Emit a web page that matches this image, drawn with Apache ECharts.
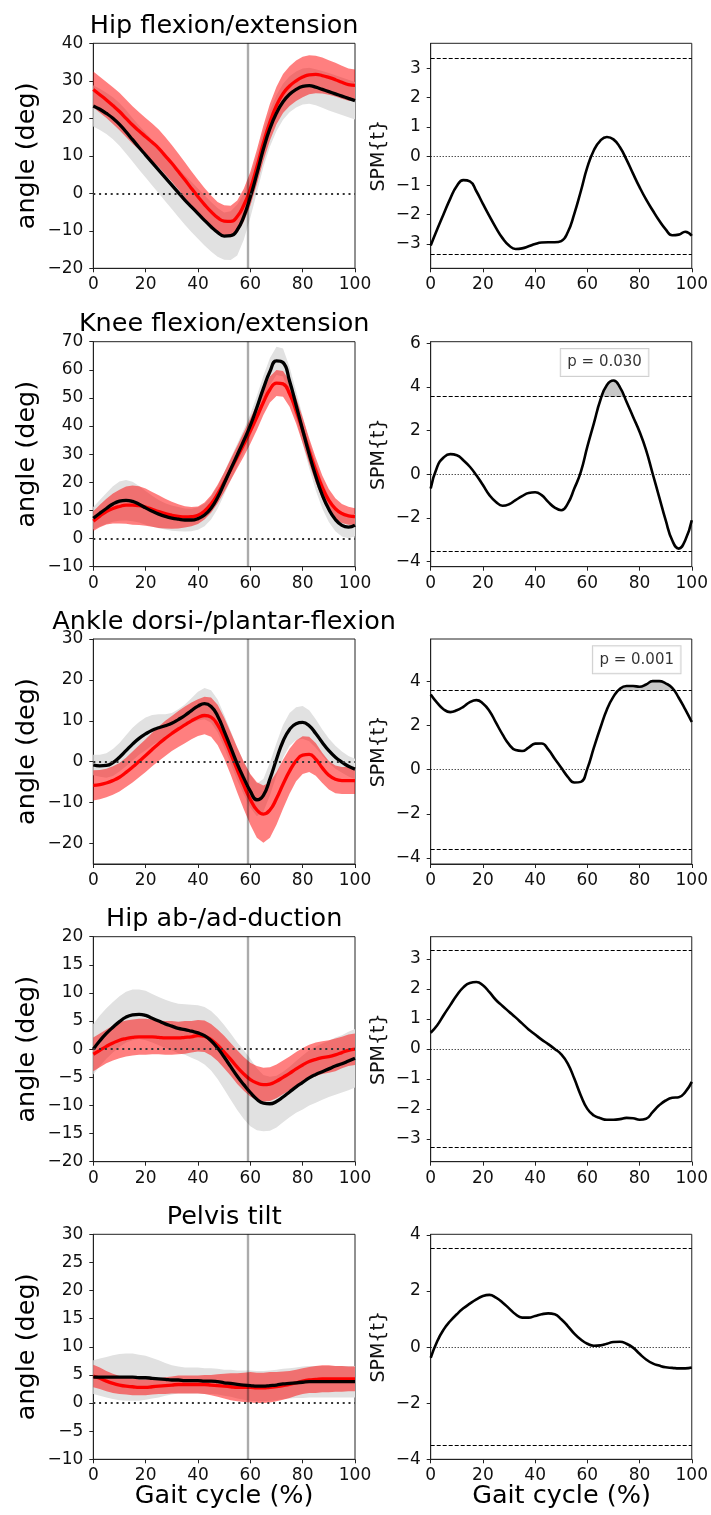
<!DOCTYPE html>
<html><head><meta charset="utf-8">
<script src="https://cdn.jsdelivr.net/npm/echarts@6/dist/echarts.min.js"></script>
<style>html,body{margin:0;padding:0;background:#fff}#c{width:711px;height:1515px}</style>
</head><body><div id="c"></div>
<script>
// ---------------- DATA ----------------
const cycle = [0,2.5,5,7.5,10,12.5,15,17.5,20,22.5,25,27.5,30,32.5,35,37.5,40,42.5,45,47.5,50,52.5,55,57.5,60,62.5,65,67.5,70,72.5,75,77.5,80,82.5,85,87.5,90,92.5,95,97.5,100];
const toeOff = 59;
const titles = ['Hip flexion/extension','Knee flexion/extension','Ankle dorsi-/plantar-flexion','Hip ab-/ad-duction','Pelvis tilt'];

// Hip flexion/extension
const hipFlexMeanA = [23.3,22.4,21.3,20.0,18.4,16.4,14.3,12.2,10.2,8.2,6.2,4.2,2.2,0.2,-1.8,-3.6,-5.4,-7.2,-8.9,-10.4,-11.4,-11.3,-9.8,-6.2,-1.0,5.2,11.8,17.3,21.4,24.4,26.4,27.7,28.5,28.7,28.3,27.7,27.1,26.5,25.9,25.3,24.7];
const hipFlexSdA   = [5.5,5.5,5.5,5.6,5.7,5.8,5.8,5.9,6.0,6.1,6.2,6.3,6.4,6.5,6.6,6.7,6.7,6.7,6.6,6.5,6.3,6.5,6.8,6.2,5.5,5.0,4.8,4.8,4.8,4.8,4.8,4.8,4.8,4.8,4.8,4.9,5.0,5.0,5.0,5.0,5.0];
const hipFlexMeanB = [27.7,26.3,24.9,23.4,21.8,20.0,18.2,16.6,15.1,13.6,12.0,10.0,8.0,5.8,3.6,1.3,-0.9,-3.0,-4.9,-6.5,-7.4,-7.5,-6.2,-3.2,1.2,7.0,13.4,19.0,23.4,26.6,28.6,30.0,31.0,31.6,31.7,31.4,30.9,30.3,29.6,29.0,28.8];
const hipFlexSdB   = [4.8,4.8,4.8,4.9,5.0,5.0,5.0,5.0,5.0,5.0,5.0,5.0,4.9,4.8,4.7,4.6,4.5,4.4,4.3,4.2,4.2,4.2,4.3,4.4,4.5,4.6,4.7,4.9,5.0,5.2,5.3,5.4,5.4,5.2,5.0,4.8,4.6,4.5,4.4,4.3,4.2];
const hipFlexSpm   = [-3.05,-2.5,-1.97,-1.45,-1.02,-0.82,-0.86,-1.2,-1.63,-2.05,-2.45,-2.8,-3.05,-3.17,-3.15,-3.08,-3.0,-2.95,-2.94,-2.94,-2.9,-2.6,-1.97,-1.2,-0.38,0.2,0.53,0.65,0.57,0.3,-0.12,-0.6,-1.06,-1.48,-1.85,-2.2,-2.5,-2.7,-2.68,-2.58,-2.72];

// Knee flexion/extension
const kneeMeanA = [7.2,9.0,10.7,12.3,13.3,13.6,13.2,12.2,10.9,9.7,8.7,7.9,7.3,6.9,6.6,6.6,7.1,8.4,10.8,14.6,19.6,24.7,29.7,34.8,40.2,46.6,53.4,59.4,63.2,62.6,56.0,47.4,38.6,30.0,22.2,15.5,10.4,6.8,4.7,4.1,4.8];
const kneeSdA   = [4.0,4.7,5.5,6.3,7.0,7.2,7.0,6.5,6.0,5.5,5.0,4.7,4.5,4.3,4.1,4.0,4.0,4.0,4.0,4.0,4.0,4.0,4.0,4.0,4.0,4.2,4.5,4.8,5.0,5.0,5.0,5.0,5.0,5.0,5.0,4.8,4.5,4.2,4.0,4.0,4.0];
const kneeMeanB = [6.2,8.0,9.6,10.7,11.4,11.9,11.9,11.7,11.2,10.4,9.6,8.9,8.3,7.9,7.7,7.8,8.3,9.8,12.3,15.8,20.0,24.5,29.0,33.5,38.2,43.2,48.5,53.0,55.3,55.0,51.5,45.5,38.5,31.2,24.3,18.2,13.6,10.6,8.9,8.1,7.8];
const kneeSdB   = [3.5,4.0,4.6,5.3,6.0,6.6,7.0,6.9,6.6,6.2,5.8,5.3,4.8,4.3,3.8,3.4,3.1,3.0,3.1,3.3,3.5,3.8,4.0,4.3,4.5,4.6,4.6,4.6,4.6,4.6,4.6,4.6,4.6,4.5,4.4,4.2,4.0,3.7,3.4,3.2,3.0];
const kneeSpm   = [-0.66,0.34,0.77,0.92,0.87,0.64,0.34,-0.05,-0.5,-0.96,-1.27,-1.45,-1.38,-1.19,-1.01,-0.86,-0.83,-0.96,-1.27,-1.53,-1.65,-1.35,-0.66,0.1,1.26,2.33,3.4,4.09,4.29,3.98,3.32,2.63,1.94,1.1,0.03,-1.04,-2.11,-3.03,-3.41,-3.03,-2.11];

// Ankle dorsi-/plantar-flexion
const ankleMeanA = [-0.8,-1.0,-0.9,-0.2,1.1,2.7,4.3,5.7,6.8,7.7,8.3,8.8,9.4,10.3,11.3,12.5,13.6,14.2,13.5,11.2,7.5,3.5,-0.5,-4.0,-7.2,-9.3,-8.2,-4.2,0.6,5.0,7.9,9.3,9.6,8.8,6.9,4.7,2.7,1.1,-0.1,-1.1,-1.8];
const ankleSdA   = [2.5,2.7,3.0,3.3,3.5,3.8,4.0,4.0,4.0,3.7,3.3,2.8,2.5,2.5,2.7,3.0,3.5,3.8,4.0,4.0,4.0,4.0,4.0,4.0,4.0,4.0,4.0,4.0,4.0,4.0,4.0,4.0,4.0,3.8,3.5,3.2,3.0,2.8,2.6,2.5,2.5];
const ankleMeanB = [-5.8,-5.6,-5.2,-4.6,-3.8,-2.6,-1.3,0.1,1.5,3.0,4.4,5.7,6.9,8.0,9.0,10.0,10.8,11.3,10.9,9.0,5.8,2.0,-2.0,-5.8,-9.2,-11.8,-12.8,-11.8,-9.0,-5.5,-2.3,0.2,1.6,1.8,0.6,-1.5,-3.3,-4.3,-4.6,-4.6,-4.6];
const ankleSdB   = [3.7,3.6,3.5,3.5,3.5,3.6,3.8,3.9,4.0,4.1,4.2,4.3,4.3,4.4,4.5,4.5,4.5,4.6,4.8,4.9,5.0,5.2,5.5,5.8,6.2,6.8,7.0,6.8,6.4,6.0,5.5,5.0,4.6,4.3,4.0,3.7,3.5,3.4,3.3,3.3,3.3];
const ankleSpm   = [3.41,3.03,2.73,2.61,2.69,2.85,3.06,3.15,3.0,2.66,2.13,1.6,1.15,0.89,0.85,1.0,1.18,1.19,0.92,0.5,0.09,-0.32,-0.58,-0.55,0.05,1.0,1.9,2.73,3.31,3.67,3.79,3.79,3.76,3.86,4.01,4.01,3.91,3.71,3.26,2.73,2.16];

// Hip ab-/ad-duction
const hipAbMeanA = [0.0,1.5,2.8,3.9,4.9,5.7,6.1,6.2,6.0,5.5,5.0,4.5,4.1,3.7,3.5,3.2,2.9,2.4,1.5,0.2,-1.4,-3.1,-4.8,-6.3,-7.7,-8.9,-9.6,-9.7,-9.3,-8.5,-7.6,-6.7,-5.9,-5.1,-4.5,-4.0,-3.5,-3.0,-2.6,-2.1,-1.6];
const hipAbSdA   = [4.5,4.5,4.5,4.5,4.5,4.5,4.5,4.4,4.4,4.3,4.3,4.3,4.3,4.4,4.5,4.7,4.9,5.1,5.3,5.5,5.7,5.9,6.0,6.1,6.0,5.5,5.0,4.8,4.6,4.5,4.5,4.6,4.8,4.9,5.0,5.0,5.0,5.1,5.1,5.2,5.2];
const hipAbMeanB = [-0.9,-0.2,0.5,1.1,1.6,1.9,2.1,2.2,2.2,2.2,2.1,2.0,2.0,2.0,2.1,2.2,2.4,2.3,1.7,0.7,-0.5,-1.8,-3.2,-4.4,-5.4,-6.0,-6.3,-6.2,-5.7,-5.0,-4.3,-3.5,-2.8,-2.2,-1.8,-1.5,-1.3,-1.0,-0.6,-0.2,0.0];
const hipAbSdB   = [3.0,3.0,3.0,3.1,3.2,3.2,3.2,3.2,3.2,3.1,3.0,3.0,3.0,2.9,2.9,2.8,2.8,2.8,2.8,2.8,2.9,2.9,3.0,3.0,3.0,3.0,3.0,3.0,3.0,3.0,3.0,3.0,3.0,3.0,3.0,2.9,2.9,2.9,2.8,2.8,2.8];
const hipAbSpm   = [0.54,0.79,1.13,1.46,1.79,2.05,2.2,2.23,2.12,1.89,1.63,1.43,1.24,1.05,0.85,0.65,0.48,0.31,0.16,0.0,-0.18,-0.49,-0.99,-1.55,-2.0,-2.22,-2.31,-2.36,-2.36,-2.34,-2.3,-2.31,-2.36,-2.33,-2.11,-1.88,-1.72,-1.63,-1.61,-1.44,-1.1];

// Pelvis tilt
const pelvisMeanA = [4.6,4.6,4.6,4.6,4.6,4.6,4.6,4.5,4.5,4.4,4.3,4.2,4.1,4.1,4.0,4.0,4.0,3.9,3.9,3.8,3.6,3.5,3.3,3.2,3.1,3.0,3.0,3.1,3.2,3.4,3.5,3.6,3.7,3.8,3.8,3.8,3.8,3.8,3.8,3.8,3.8];
const pelvisSdA   = [3.0,3.3,3.6,3.9,4.1,4.2,4.2,4.1,3.9,3.6,3.3,2.9,2.6,2.4,2.3,2.3,2.3,2.3,2.3,2.3,2.3,2.4,2.5,2.6,2.7,2.7,2.7,2.7,2.7,2.7,2.7,2.7,2.8,2.8,2.8,2.8,2.8,2.8,2.8,2.8,2.8];
const pelvisMeanB = [4.8,4.4,3.9,3.5,3.2,3.0,2.9,2.8,2.8,2.9,3.0,3.1,3.2,3.3,3.3,3.3,3.3,3.3,3.2,3.1,3.0,2.9,2.8,2.8,2.8,2.7,2.7,2.8,2.9,3.1,3.3,3.6,3.9,4.1,4.2,4.3,4.3,4.3,4.3,4.3,4.3];
const pelvisSdB   = [2.0,1.9,1.8,1.7,1.6,1.5,1.5,1.4,1.4,1.4,1.4,1.5,1.5,1.6,1.6,1.6,1.6,1.7,1.8,2.0,2.2,2.4,2.5,2.6,2.7,2.7,2.7,2.7,2.6,2.5,2.4,2.3,2.3,2.3,2.4,2.4,2.4,2.3,2.3,2.2,2.2];
const pelvisSpm   = [-0.38,0.21,0.63,0.93,1.17,1.38,1.55,1.7,1.82,1.86,1.76,1.59,1.38,1.17,1.05,1.05,1.11,1.17,1.2,1.17,0.99,0.75,0.48,0.27,0.12,0.05,0.06,0.12,0.18,0.19,0.12,-0.02,-0.24,-0.44,-0.58,-0.66,-0.72,-0.74,-0.76,-0.76,-0.73];

// SPM thresholds and p-values
const thresholds = [3.34, 3.55, 3.59, 3.28, 3.51];
const pLabels = [null, 'p = 0.030', 'p = 0.001', null, null];
const pLabelAt = [null, [66.6, 5.12], [78.9, 4.98], null, null];

// Axis ranges and tick labels
const xTicks = [0, 20, 40, 60, 80, 100];
const angleMin = [-20, -10, -25, -20, -10];
const angleMax = [40, 70, 30, 20, 30];
const angleTicks = [[-20,-10,0,10,20,30,40],[-10,0,10,20,30,40,50,60,70],[-20,-10,0,10,20,30],[-20,-15,-10,-5,0,5,10,15,20],[-10,-5,0,5,10,15,20,25,30]];
const spmMin = [-3.83, -4.24, -4.27, -3.76, -4.0];
const spmMax = [3.85, 6.07, 5.92, 3.74, 4.02];
const spmTicks = [[-3,-2,-1,0,1,2,3],[-4,-2,0,2,4,6],[-4,-2,0,2,4],[-3,-2,-1,0,1,2,3],[-4,-2,0,2,4]];

const meansA = [hipFlexMeanA, kneeMeanA, ankleMeanA, hipAbMeanA, pelvisMeanA];
const sdsA   = [hipFlexSdA, kneeSdA, ankleSdA, hipAbSdA, pelvisSdA];
const meansB = [hipFlexMeanB, kneeMeanB, ankleMeanB, hipAbMeanB, pelvisMeanB];
const sdsB   = [hipFlexSdB, kneeSdB, ankleSdB, hipAbSdB, pelvisSdB];
const spms   = [hipFlexSpm, kneeSpm, ankleSpm, hipAbSpm, pelvisSpm];

// ---------------- LAYOUT ----------------
const FONT = 'DejaVu Sans';
const TXT = '#111111';
const tops = [43.3, 341.7, 639, 936.7, 1234.3];
const H = 225;
const LX = 93.3, LW = 261.7, RX = 430.7, RW = 261.6;
const SMOOTH = 0.5;

const fmt = v => (v < 0 ? '\u2212' : '') + Math.abs(v);
const pairs = arr => arr.map((v, i) => [cycle[i], v]);
const bandOf = (m, s) => m.map((v, i) => [cycle[i], +(v - s[i]).toFixed(3), +(v + s[i]).toFixed(3)]);

// one polygon through all rows of a band series: upper edge, then lower edge reversed
function bandRender(color) {
  return function (params, api) {
    if (params.dataIndexInside !== 0) return null;
    const n = params.dataInsideLength, up = [], lo = [];
    for (let k = 0; k < n; k++) {
      up.push(api.coord([api.value(0, k), api.value(2, k)]));
      lo.push(api.coord([api.value(0, k), api.value(1, k)]));
    }
    return {type: 'polygon', silent: true, shape: {points: up.concat(lo.reverse())}, style: {fill: color}};
  };
}
// supra-threshold cluster: area between SPM{t} and the critical threshold where SPM{t} > threshold
function clusterRender(thr) {
  return function (params, api) {
    if (params.dataIndexInside !== 0) return null;
    const n = params.dataInsideLength, polys = [];
    let cur = null;
    for (let k = 0; k < n; k++) {
      const x = api.value(0, k), y = api.value(1, k);
      if (y > thr) {
        if (!cur) {
          cur = [];
          if (k > 0) {
            const x0 = api.value(0, k - 1), y0 = api.value(1, k - 1);
            cur.push(api.coord([x0 + (thr - y0) / (y - y0) * (x - x0), thr]));
          } else cur.push(api.coord([x, thr]));
        }
        cur.push(api.coord([x, y]));
      } else if (cur) {
        const x0 = api.value(0, k - 1), y0 = api.value(1, k - 1);
        cur.push(api.coord([x0 + (thr - y0) / (y - y0) * (x - x0), thr]));
        polys.push(cur); cur = null;
      }
    }
    if (cur) { cur.push(api.coord([api.value(0, n - 1), thr])); polys.push(cur); }
    return {type: 'group', children: polys.map(p => ({type: 'polygon', silent: true, shape: {points: p}, style: {fill: '#c8c8c8'}}))};
  };
}

const grid = [], xAxis = [], yAxis = [], series = [], graphic = [];

function mkX(gi) {
  return {type: 'value', gridIndex: gi, min: 0, max: 100, interval: 20,
    axisLine: {show: true, onZero: false, lineStyle: {color: '#222', width: 1}},
    axisTick: {show: true, length: 4, inside: false, customValues: xTicks, lineStyle: {color: '#222', width: 1}},
    axisLabel: {fontFamily: FONT, fontSize: 17, color: TXT, margin: 8, customValues: xTicks, formatter: fmt},
    splitLine: {show: false}};
}
function mkY(gi, min, max, ticks) {
  return {type: 'value', gridIndex: gi, min: min, max: max,
    axisLine: {show: true, onZero: false, lineStyle: {color: '#222', width: 1}},
    axisTick: {show: true, length: 4, customValues: ticks, lineStyle: {color: '#222', width: 1}},
    axisLabel: {fontFamily: FONT, fontSize: 17, color: TXT, margin: 10, customValues: ticks, formatter: fmt},
    splitLine: {show: false}};
}

for (let i = 0; i < 5; i++) {
  const gL = 2 * i, gR = 2 * i + 1;
  grid.push({left: LX, top: tops[i], width: LW, height: H, show: true, borderColor: '#222', borderWidth: 1, backgroundColor: 'transparent'});
  grid.push({left: RX, top: tops[i], width: RW, height: H, show: true, borderColor: '#222', borderWidth: 1, backgroundColor: 'transparent'});
  xAxis.push(mkX(gL)); xAxis.push(mkX(gR));
  yAxis.push(mkY(gL, angleMin[i], angleMax[i], angleTicks[i]));
  yAxis.push(mkY(gR, spmMin[i], spmMax[i], spmTicks[i]));

  const axL = {xAxisIndex: gL, yAxisIndex: gL};
  series.push(Object.assign({type: 'custom', coordinateSystem: 'cartesian2d', silent: true, animation: false, clip: true,
    encode: {x: 0, y: [1, 2]}, data: bandOf(meansA[i], sdsA[i]), renderItem: bandRender('#e1e1e1')}, axL));
  series.push(Object.assign({type: 'custom', coordinateSystem: 'cartesian2d', silent: true, animation: false, clip: true,
    encode: {x: 0, y: [1, 2]}, data: bandOf(meansB[i], sdsB[i]), renderItem: bandRender('rgba(255,0,0,0.5)')}, axL));
  const base = Object.assign({type: 'line', smooth: SMOOTH, symbol: 'none', silent: true, animation: false,
    emphasis: {disabled: true}}, axL);
  series.push(Object.assign({}, base, {data: pairs(meansB[i]), lineStyle: {color: '#ff0000', width: 3.3}}));
  series.push(Object.assign({}, base, {data: pairs(meansA[i]), lineStyle: {color: '#000000', width: 3.3},
    markLine: {silent: true, symbol: ['none', 'none'], label: {show: false}, animation: false,
      data: [
        {yAxis: 0, lineStyle: {color: '#333', width: 2, type: [2, 3.8]}},
        {xAxis: toeOff, lineStyle: {color: 'rgba(0,0,0,0.33)', width: 2.4, type: 'solid'}}
      ]}}));

  const axR = {xAxisIndex: gR, yAxisIndex: gR};
  series.push(Object.assign({type: 'custom', coordinateSystem: 'cartesian2d', silent: true, animation: false, clip: true,
    encode: {x: 0, y: 1}, data: pairs(spms[i]), renderItem: clusterRender(thresholds[i])}, axR));
  series.push(Object.assign({type: 'line', smooth: SMOOTH, symbol: 'none', silent: true, animation: false,
    emphasis: {disabled: true}, data: pairs(spms[i]), lineStyle: {color: '#000', width: 2.6},
    markLine: {silent: true, symbol: ['none', 'none'], label: {show: false}, animation: false,
      data: [
        {yAxis: thresholds[i], lineStyle: {color: '#000', width: 1.2, type: [4, 2]}},
        {yAxis: -thresholds[i], lineStyle: {color: '#000', width: 1.2, type: [4, 2]}},
        {yAxis: 0, lineStyle: {color: '#000', width: 1, type: [1, 2]}}
      ]}}, axR));
  if (pLabels[i]) {
    series.push(Object.assign({type: 'scatter', silent: true, animation: false, symbolSize: 1,
      itemStyle: {color: 'rgba(0,0,0,0)'}, data: [pLabelAt[i]],
      label: {show: true, position: 'inside', formatter: pLabels[i], fontFamily: FONT, fontSize: 15, color: '#000',
        backgroundColor: '#ffffff', borderColor: '#c4c4c4', borderWidth: 1, padding: [6, 6.5]}}, axR));
  }

  // texts
  graphic.push({type: 'text', x: LX + LW / 2, y: tops[i] - 17, silent: true,
    style: {text: titles[i], fontFamily: FONT, fontSize: 25.5, fill: '#000', align: 'center', verticalAlign: 'middle'}});
  graphic.push({type: 'text', x: 27.5, y: tops[i] + H / 2, rotation: Math.PI / 2, silent: true,
    style: {text: 'angle (deg)', fontFamily: FONT, fontSize: 25.5, fill: '#000', align: 'center', verticalAlign: 'middle'}});
  graphic.push({type: 'text', x: 379, y: tops[i] + H / 2, rotation: Math.PI / 2, silent: true,
    style: {text: 'SPM{t}', fontFamily: FONT, fontSize: 19, fill: TXT, align: 'center', verticalAlign: 'middle'}});
}
graphic.push({type: 'text', x: LX + LW / 2, y: 1496, silent: true,
  style: {text: 'Gait cycle (%)', fontFamily: FONT, fontSize: 25.5, fill: '#000', align: 'center', verticalAlign: 'middle'}});
graphic.push({type: 'text', x: RX + RW / 2, y: 1496, silent: true,
  style: {text: 'Gait cycle (%)', fontFamily: FONT, fontSize: 25.5, fill: '#000', align: 'center', verticalAlign: 'middle'}});

const chart = echarts.init(document.getElementById('c'), null, {renderer: 'canvas', width: 711, height: 1515});
chart.setOption({animation: false, backgroundColor: '#ffffff', textStyle: {fontFamily: FONT},
  grid, xAxis, yAxis, series, graphic});
</script>
</body></html>
